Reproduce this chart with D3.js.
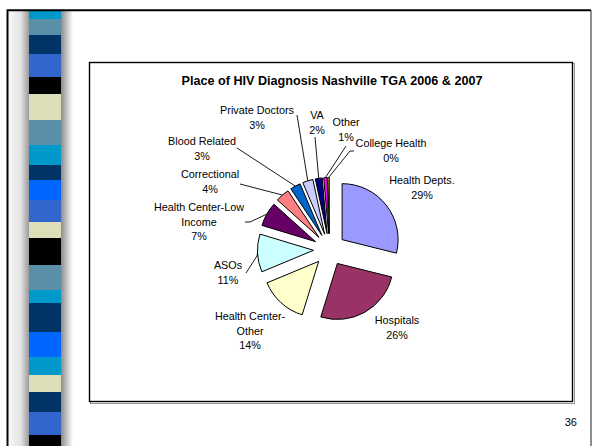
<!DOCTYPE html>
<html>
<head>
<meta charset="utf-8">
<script src="https://cdn.jsdelivr.net/npm/d3@7"></script>
<style>
  body { margin: 0; background: #fff; }
  svg { display: block; font-family: Arial, "Liberation Sans", sans-serif; }
</style>
</head>
<body>
<svg id="chart" width="596" height="446"></svg>
<script>
// chart data
var title = "Place of HIV Diagnosis Nashville TGA 2006 & 2007";
var categories = ["Health Depts.", "Hospitals", "Health Center-\nOther", "ASOs",
  "Health Center-Low\nIncome", "Correctional", "Blood Related", "Private Doctors",
  "VA", "Other", "College Health"];
var values = [29, 26, 14, 11, 7, 4, 3, 3, 2, 1, 0.4];
var colors = ["#9999FF", "#993366", "#FFFFCC", "#CCFFFF", "#660066", "#FF8080",
  "#0066CC", "#CCCCFF", "#000080", "#FF00FF", "#FFFF00"];
var pageNumber = "36";

// decorative stripe on the left of the slide
var stripeColors = ["#0099CC", "#5B8FA8", "#003366", "#3366CC", "#000000", "#DDDDB8",
  "#5B8FA8", "#0099CC", "#003366", "#0066FF", "#3366CC", "#DDDDB8", "#000000",
  "#5B8FA8", "#0099CC", "#003366", "#0066FF", "#0099CC", "#DDDDB8", "#003366",
  "#3366CC", "#000000"];
var stripeStops = [10, 19, 35, 54, 77, 94, 120, 145, 165, 180, 200, 222, 238, 265,
  290, 303, 332, 357, 375, 392, 412, 435, 446];

// label layout (text position + leader line start points)
var labelLayout = [
  { x: 422, y: 184, leader: null },
  { x: 397, y: 324, leader: null },
  { x: 250, y: 320, leader: null },
  { x: 228, y: 269, leader: [[246, 273], [257, 256]] },
  { x: 199, y: 211, leader: [[245, 222], [250, 222]] },
  { x: 210, y: 178, leader: [[240, 184]] },
  { x: 202, y: 145, leader: [[237, 148]] },
  { x: 257, y: 114, leader: [[297, 115]] },
  { x: 317, y: 119, leader: [[315, 137]] },
  { x: 346, y: 126, leader: [[346, 146]] },
  { x: 391, y: 147, leader: [[354, 151], [350, 151]] }
];

var svg = d3.select("#chart");
var defs = svg.append("defs");

var gl = defs.append("linearGradient").attr("id", "shadeL");
gl.append("stop").attr("offset", "0%").attr("stop-color", "#f7f7f7");
gl.append("stop").attr("offset", "60%").attr("stop-color", "#e2e2e2");
gl.append("stop").attr("offset", "100%").attr("stop-color", "#9a9a9a");
var gr = defs.append("linearGradient").attr("id", "shadeR");
gr.append("stop").attr("offset", "0%").attr("stop-color", "#8c8c8c");
gr.append("stop").attr("offset", "100%").attr("stop-color", "#ffffff");

// slide frame
svg.append("rect").attr("x", 9).attr("y", 11).attr("width", 20).attr("height", 440)
  .attr("fill", "url(#shadeL)");
svg.append("rect").attr("x", 61).attr("y", 11).attr("width", 12).attr("height", 440)
  .attr("fill", "url(#shadeR)");

svg.append("g").selectAll("rect")
  .data(stripeColors)
  .enter().append("rect")
  .attr("x", 29)
  .attr("y", function (d, i) { return stripeStops[i]; })
  .attr("width", 32)
  .attr("height", function (d, i) { return stripeStops[i + 1] - stripeStops[i]; })
  .attr("fill", function (d) { return d; });

svg.append("line").attr("x1", 7.5).attr("y1", 10.3).attr("x2", 591).attr("y2", 10.3)
  .attr("stroke", "#000").attr("stroke-width", 2);
svg.append("line").attr("x1", 7.5).attr("y1", 9.5).attr("x2", 7.5).attr("y2", 446)
  .attr("stroke", "#000").attr("stroke-width", 2);
svg.append("line").attr("x1", 591).attr("y1", 10).attr("x2", 591).attr("y2", 446)
  .attr("stroke", "#444").attr("stroke-width", 1.2);

// chart box
svg.append("rect").attr("x", 90.5).attr("y", 63.5).attr("width", 484).attr("height", 340)
  .attr("fill", "none").attr("stroke", "#999").attr("stroke-width", 1);
svg.append("rect").attr("x", 89.5).attr("y", 62.5).attr("width", 483).attr("height", 339)
  .attr("fill", "#fff").attr("stroke", "#000").attr("stroke-width", 1.4);

svg.append("text")
  .attr("x", 332).attr("y", 85)
  .attr("text-anchor", "middle")
  .attr("font-size", "12px").attr("font-weight", "bold")
  .attr("textLength", 301)
  .attr("lengthAdjust", "spacingAndGlyphs")
  .text(title);

// pie
var cx = 329.5, cy = 249.5, radius = 56, explode = 16;
var data = categories.map(function (c, i) { return { name: c, value: values[i], color: colors[i], layout: labelLayout[i] }; });

var pie = d3.pie().sort(null).value(function (d) { return d.value; });
var arcs = pie(data);
var arc = d3.arc().innerRadius(0).outerRadius(radius);
var shift = d3.arc().innerRadius(explode).outerRadius(explode);
var edge = d3.arc().innerRadius(explode + radius).outerRadius(explode + radius);

var g = svg.append("g").attr("transform", "translate(" + cx + "," + cy + ")");

g.selectAll(".slice")
  .data(arcs)
  .enter().append("path")
  .attr("class", "slice")
  .attr("transform", function (d) { return "translate(" + shift.centroid(d) + ")"; })
  .attr("d", arc)
  .attr("fill", function (d) { return d.data.color; })
  .attr("stroke", "#000")
  .attr("stroke-width", 1)
  .attr("stroke-linejoin", "round");

// leader lines
var line = d3.line();
svg.append("g").selectAll("path")
  .data(arcs.filter(function (d) { return d.data.layout.leader; }))
  .enter().append("path")
  .attr("d", function (d) {
    var p = edge.centroid(d);
    return line(d.data.layout.leader.concat([[p[0] + cx, p[1] + cy]]));
  })
  .attr("fill", "none")
  .attr("stroke", "#000")
  .attr("stroke-width", 0.9);

// labels
var labels = svg.append("g").attr("font-size", "10.8px").attr("fill", "#000");
arcs.forEach(function (d) {
  var lines = d.data.name.split("\n");
  lines.push(Math.round(d.data.value) + "%");
  var t = labels.append("text")
    .attr("x", d.data.layout.x)
    .attr("y", d.data.layout.y)
    .attr("text-anchor", "middle");
  lines.forEach(function (s, k) {
    t.append("tspan").attr("x", d.data.layout.x).attr("dy", k === 0 ? 0 : 14.6).text(s);
  });
});

svg.append("text")
  .attr("x", 577).attr("y", 425.5)
  .attr("text-anchor", "end")
  .attr("font-size", "11px")
  .text(pageNumber);
</script>
</body>
</html>
